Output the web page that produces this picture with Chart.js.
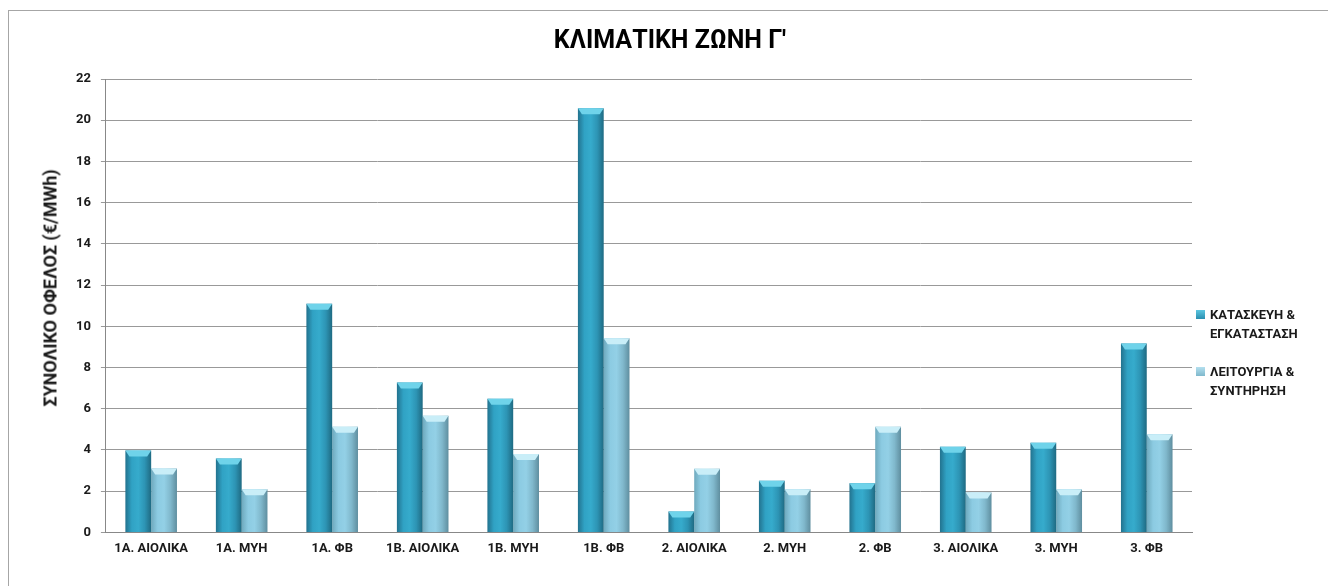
<!DOCTYPE html>
<html>
<head>
<meta charset="utf-8">
<script src="https://cdn.jsdelivr.net/npm/chart.js@4.4.1/dist/chart.umd.min.js"></script>
<style>
  html, body { margin: 0; padding: 0; background: #fff; }
  body { width: 1328px; height: 586px; position: relative; overflow: hidden; font-family: Roboto, sans-serif; }
  .frame { position: absolute; left: 8px; top: 10px; width: 1340px; height: 600px; border: 1px solid #a6a6a6; box-sizing: border-box; }
  .chartBox { position: absolute; left: 9px; top: 11px; width: 1319px; height: 575px; }
  .title { position: absolute; left: 420px; width: 500px; top: 25px; text-align: center; font-weight: 700; font-size: 25px; color: #000; }
  .ytitle { position: absolute; left: 50px; top: 288px; transform: translate(-50%, -50%) rotate(-90deg); white-space: nowrap; font-weight: 700; font-size: 18px; color: #1a1a1a; }
  .legend { position: absolute; left: 1196px; top: 305px; font-weight: 700; font-size: 13px; color: #1a1a1a; line-height: 19px; }
  .legend .item { position: relative; padding-left: 14px; margin-bottom: 19px; }
  .legend .sw { position: absolute; left: 0; top: 5px; width: 9px; height: 9px; }
</style>
</head>
<body>
<div class="frame"></div>
<div class="chartBox"><canvas id="chart"></canvas></div>
<div class="title">ΚΛΙΜΑΤΙΚΗ ΖΩΝΗ Γ'</div>
<div class="ytitle">ΣΥΝΟΛΙΚΟ ΟΦΕΛΟΣ (€/MWh)</div>
<div class="legend">
  <div class="item"><span class="sw" style="background:linear-gradient(#5cc6e0,#2a8fb0)"></span>ΚΑΤΑΣΚΕΥΗ &amp;<br>ΕΓΚΑΤΑΣΤΑΣΗ</div>
  <div class="item"><span class="sw" style="background:linear-gradient(#b4e0ef,#7fb8cc)"></span>ΛΕΙΤΟΥΡΓΙΑ &amp;<br>ΣΥΝΤΗΡΗΣΗ</div>
</div>
<script>
const categories = ['1A. ΑΙΟΛΙΚΑ', '1A. ΜΥΗ', '1A. ΦΒ', '1B. ΑΙΟΛΙΚΑ', '1B. ΜΥΗ', '1B. ΦΒ',
  '2. ΑΙΟΛΙΚΑ', '2. ΜΥΗ', '2. ΦΒ', '3. ΑΙΟΛΙΚΑ', '3. ΜΥΗ', '3. ΦΒ'];
const construction = [3.98, 3.58, 11.1, 7.27, 6.49, 20.58, 1.02, 2.51, 2.38, 4.16, 4.35, 9.17];
const operation = [3.1, 2.09, 5.13, 5.66, 3.8, 9.42, 3.09, 2.09, 5.13, 1.93, 2.09, 4.76];
const seriesNames = ['ΚΑΤΑΣΚΕΥΗ & ΕΓΚΑΤΑΣΤΑΣΗ', 'ΛΕΙΤΟΥΡΓΙΑ & ΣΥΝΤΗΡΗΣΗ'];

const fontFamily = 'Roboto, sans-serif';

// horizontal shading across each bar, like the glossy office bars
function barFill(stops, solid) {
  return (ctx) => {
    const el = ctx.element;
    if (!el || el.x == null || !el.width) return solid;
    const c = ctx.chart.ctx;
    const g = c.createLinearGradient(el.x - el.width / 2, 0, el.x + el.width / 2, 0);
    stops.forEach((s, i) => g.addColorStop(i / (stops.length - 1), s));
    return g;
  };
}

// light cap on top of each bar
const barCaps = {
  id: 'barCaps',
  afterDatasetsDraw(chart) {
    const c = chart.ctx;
    const caps = ['#6fd3ea', '#c9eef8'];
    chart.data.datasets.forEach((ds, di) => {
      chart.getDatasetMeta(di).data.forEach(bar => {
        const x0 = bar.x - bar.width / 2, x1 = bar.x + bar.width / 2;
        const h = Math.min(6, bar.base - bar.y);
        c.save();
        c.fillStyle = caps[di];
        c.beginPath();
        c.moveTo(x0, bar.y);
        c.lineTo(x1, bar.y);
        c.lineTo(x1 - 4, bar.y + h);
        c.lineTo(x0 + 4, bar.y + h);
        c.closePath();
        c.fill();
        c.restore();
      });
    });
  }
};

const chart = new Chart(document.getElementById('chart'), {
  type: 'bar',
  data: {
    labels: categories,
    datasets: [
      {
        label: seriesNames[0],
        data: construction,
        backgroundColor: barFill(['#22728e', '#30a2c4', '#36abcc', '#2d94b4', '#1f6a82'], '#30a2c4'),
        borderWidth: 0
      },
      {
        label: seriesNames[1],
        data: operation,
        backgroundColor: barFill(['#6ea9bd', '#8ccbe2', '#93d0e6', '#80b8cc', '#5f8e9f'], '#8ccbe2'),
        borderWidth: 0
      }
    ]
  },
  options: {
    responsive: true,
    maintainAspectRatio: false,
    animation: false,
    categoryPercentage: 0.57,
    barPercentage: 1,
    layout: { padding: { left: 57, right: 136, top: 68, bottom: 28 } },
    plugins: {
      legend: { display: false },
      tooltip: { enabled: false }
    },
    scales: {
      x: {
        grid: { display: false },
        border: { color: '#888', width: 1 },
        ticks: { color: '#1a1a1a', font: { family: fontFamily, size: 13, weight: 'bold' }, maxRotation: 0, padding: 1 }
      },
      y: {
        min: 0,
        max: 22,
        ticks: { stepSize: 2, color: '#1a1a1a', font: { family: fontFamily, size: 13, weight: 'bold' }, padding: 10 },
        grid: { color: '#999', lineWidth: 1, tickLength: 5 },
        border: { color: '#888', width: 1 }
      }
    }
  },
  plugins: [barCaps]
});
chart.update();
</script>
</body>
</html>
